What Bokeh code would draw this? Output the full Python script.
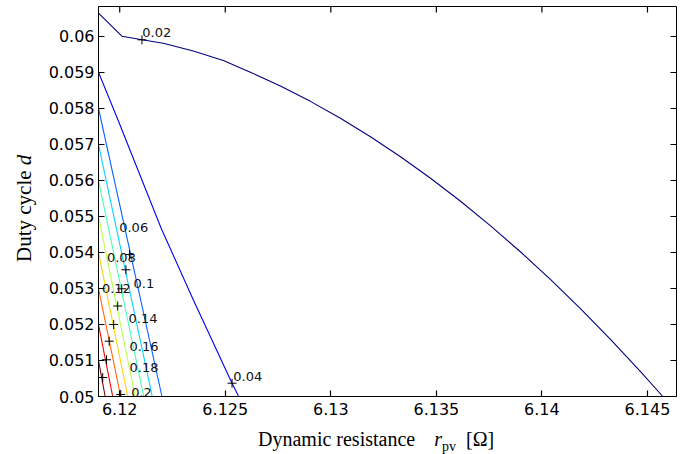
import numpy as np
from bokeh.plotting import figure
from bokeh.layouts import row, column
from bokeh.models import Range1d, FixedTicker, CustomJSTickFormatter, ColumnDataSource, Div
from bokeh.core.properties import value
from bokeh.embed import file_html
from bokeh.resources import INLINE

# Contour levels of the objective and their jet colours
levels = [0.02, 0.04, 0.06, 0.08, 0.1, 0.12, 0.14, 0.16, 0.18, 0.2]
colors = ["#000080", "#0000F1", "#0063FF", "#00D4FF", "#47FFB8",
          "#B8FF47", "#FFD400", "#FF6300", "#F10000", "#800000"]

# Level 0.02 contour: dynamic resistance r_pv [ohm] and duty cycle d
c002_r = [6.118995, 6.120104, 6.121053, 6.122063, 6.123485, 6.124908, 6.126188,
          6.127611, 6.129034, 6.130456, 6.131879, 6.133301, 6.134724, 6.136146,
          6.137569, 6.138992, 6.140414, 6.141837, 6.143259, 6.144682, 6.145726]
c002_d = [0.060648, 0.060008, 0.059908, 0.059814, 0.059598, 0.059333, 0.059009,
          0.058626, 0.058198, 0.057728, 0.057214, 0.056659, 0.056064, 0.055423,
          0.054739, 0.054014, 0.053245, 0.052434, 0.051581, 0.050686, 0.050000]

# Level 0.04 contour
c004_r = [6.118995, 6.119929, 6.121968, 6.123500, 6.125321, 6.125633]
c004_d = [0.059009, 0.057667, 0.054667, 0.052667, 0.050369, 0.050000]

# Levels 0.06 ... 0.2: end points on the left edge and on the bottom edge
steep_r = [[6.118995, 6.122001], [6.118995, 6.121541], [6.118995, 6.121138],
           [6.118995, 6.120735], [6.118995, 6.120379], [6.118995, 6.120047],
           [6.118995, 6.119668], [6.118995, 6.119312]]
steep_d = [[0.058, 0.05], [0.057, 0.05], [0.056, 0.05], [0.055, 0.05],
           [0.054, 0.05], [0.053, 0.05], [0.052, 0.05], [0.051, 0.05]]

# Contour label texts and positions
label_text = ["0.02", "0.04", "0.06", "0.08", "0.12", "0.1", "0.14", "0.16", "0.18", "0.2"]
label_r = [6.121067, 6.125382, 6.119976, 6.119393, 6.119156, 6.120654,
           6.120417, 6.120465, 6.120465, 6.120545]
label_d = [0.060103, 0.050556, 0.054686, 0.053870, 0.052992, 0.053131,
           0.052158, 0.051389, 0.050814, 0.050119]

# "+" markers on the labelled contours
plus_r = [6.121053, 6.125321, 6.120465, 6.120294, 6.120095, 6.119905,
          6.119715, 6.119502, 6.119374, 6.119194, 6.120047]
plus_d = [0.059908, 0.050369, 0.053945, 0.053520, 0.052992, 0.052514,
          0.052000, 0.051536, 0.051020, 0.050528, 0.050056]

# Axis ticks
x_ticks = [6.12, 6.125, 6.13, 6.135, 6.14, 6.145]
y_ticks = [0.05, 0.051, 0.052, 0.053, 0.054, 0.055, 0.056, 0.057, 0.058, 0.059, 0.06]

x_lo, x_hi = 6.118995, 6.146375
y_lo, y_hi = 0.05, 0.060833

p = figure(width=655, height=424, output_backend="svg", toolbar_location=None,
           x_range=Range1d(x_lo, x_hi), y_range=Range1d(y_lo, y_hi),
           min_border_left=58, min_border_right=19, min_border_top=6, min_border_bottom=28)
p.margin = 0
p.xgrid.visible = False
p.ygrid.visible = False
p.background_fill_color = "white"
p.border_fill_color = "white"
p.outline_line_color = "black"
p.outline_line_width = 1

fmt = CustomJSTickFormatter(code="return Number(tick.toFixed(4)).toString();")

for ax, ticks in ((p.xaxis[0], x_ticks), (p.yaxis[0], y_ticks)):
    ax.ticker = FixedTicker(ticks=ticks)
    ax.formatter = fmt
    ax.major_tick_in = 6
    ax.major_tick_out = 0
    ax.minor_tick_in = 0
    ax.minor_tick_out = 0
    ax.axis_line_color = "black"
    ax.major_tick_line_color = "black"
    ax.major_tick_line_width = 1.2
    ax.major_label_text_font = "DejaVu Sans"
    ax.major_label_text_font_size = "16px"
    ax.major_label_text_color = "black"
p.xaxis.major_label_standoff = 6
p.yaxis.major_label_standoff = 4

# mirrored inward ticks on the top and right edges of the box
tick_dx = (x_hi - x_lo) * 6 / 578
tick_dy = (y_hi - y_lo) * 6 / 390
p.segment(x0=x_ticks, y0=[y_hi] * len(x_ticks), x1=x_ticks, y1=[y_hi - tick_dy] * len(x_ticks),
          line_color="black", line_width=1.2)
p.segment(x0=[x_hi] * len(y_ticks), y0=y_ticks, x1=[x_hi - tick_dx] * len(y_ticks), y1=y_ticks,
          line_color="black", line_width=1.2)

# contour lines
p.line(c002_r, c002_d, line_color=colors[0], line_width=1.1)
p.line(c004_r, c004_d, line_color=colors[1], line_width=1.1)
p.multi_line(steep_r, steep_d, line_color=colors[2:], line_width=1.1)

p.scatter(plus_r, plus_d, marker="cross", size=9, line_color="black", line_width=1)

src = ColumnDataSource(dict(x=label_r, y=label_d, t=label_text))
p.text("x", "y", text="t", source=src, text_font=value("DejaVu Sans"),
       text_font_size="13px", text_color="#111111", text_align="left",
       text_baseline="middle")

# axis titles with italic symbols and a subscript
serif = "font-family:'Liberation Serif','Times New Roman',serif; color:black; white-space:nowrap;"
x_title = Div(width=655, height=30, margin=0, text=(
    f'<div style="{serif} margin-left:218px; font-size:20px; line-height:30px;">'
    'Dynamic resistance <i style="margin-left:14px">r</i>'
    '<span style="font-size:14px; position:relative; top:5px;">pv</span>'
    '&nbsp;&nbsp;[\u03a9]</div>'))
y_title = Div(width=40, height=454, margin=0, text=(
    '<div style="position:relative; width:40px; height:454px;">'
    f'<div style="{serif} position:absolute; left:12px; top:262px; font-size:21px; '
    'line-height:24px; transform:rotate(-90deg); transform-origin:0 0;">'
    'Duty cycle <i>d</i></div></div>'))

layout = row(y_title, column(p, x_title, spacing=0), spacing=0)

open("out.html", "w").write(file_html(layout, INLINE))
